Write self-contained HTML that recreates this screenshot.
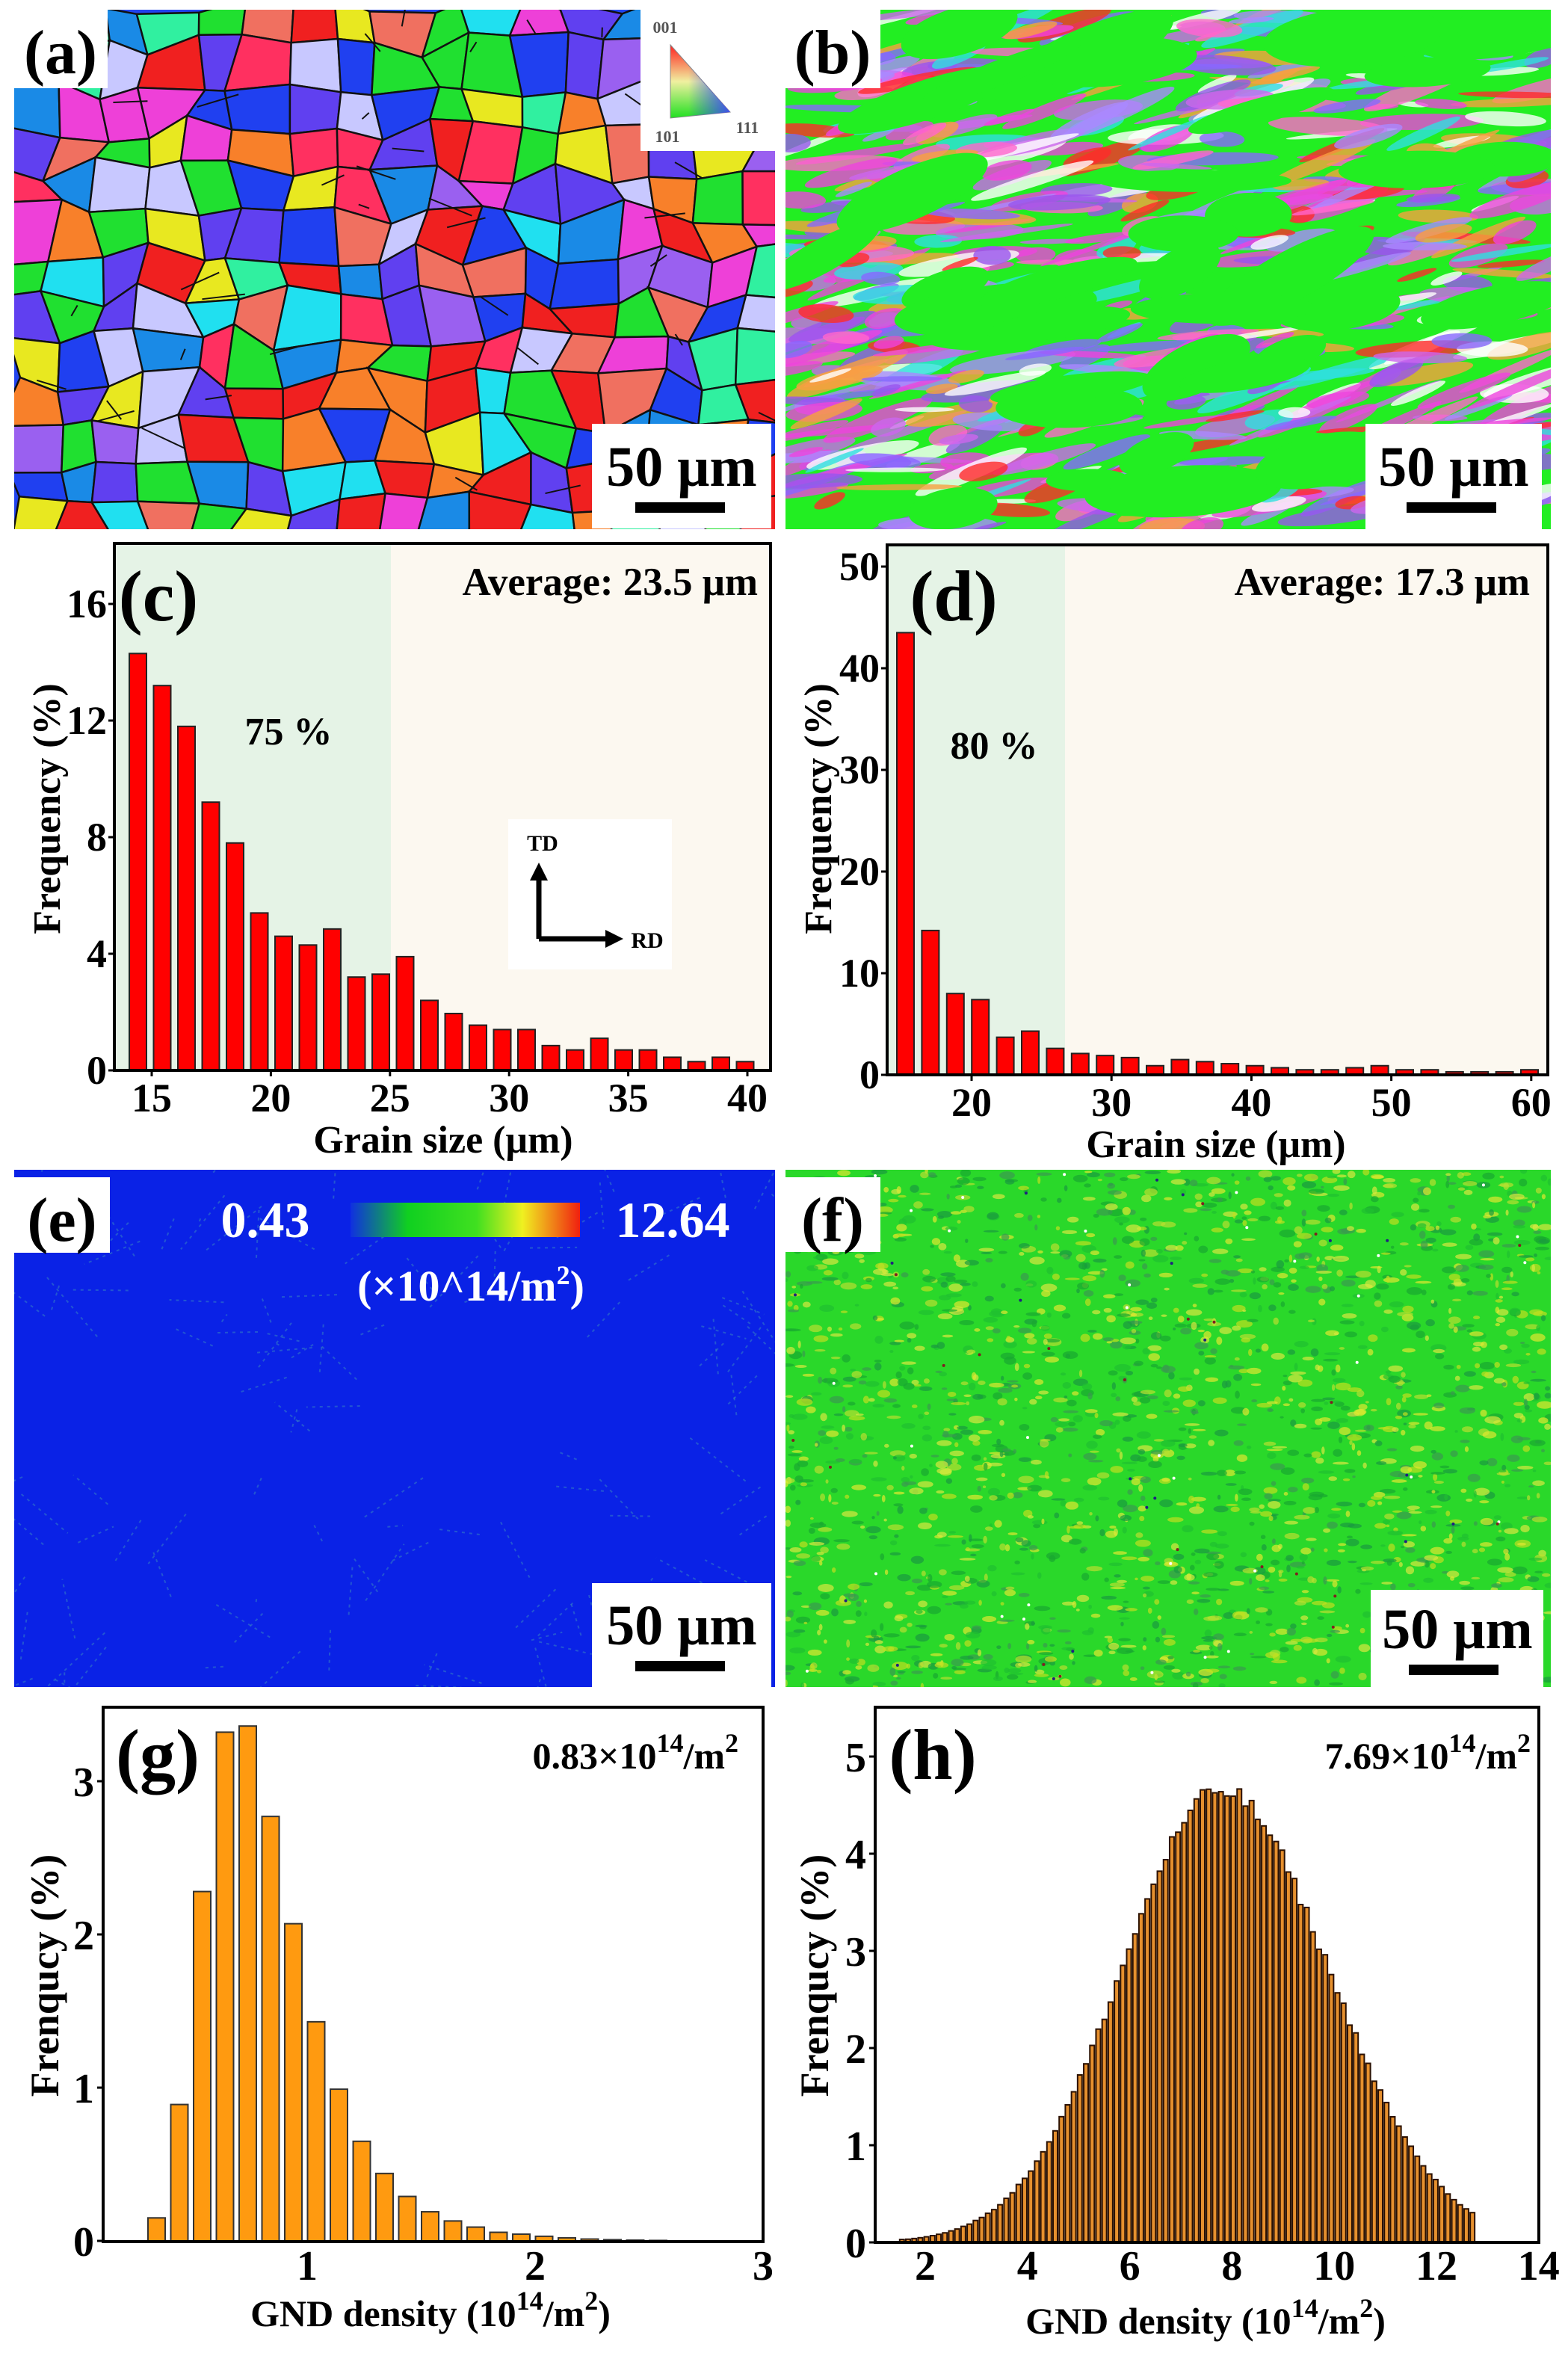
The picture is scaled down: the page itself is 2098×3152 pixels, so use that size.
<!DOCTYPE html>
<html><head><meta charset="utf-8"><style>
html,body{margin:0;padding:0;background:#fff;}
svg{display:block;}
text{font-family:"Liberation Serif",serif;font-weight:bold;}
</style></head><body>
<svg id="s" width="2098" height="3152" viewBox="0 0 2098 3152" xmlns="http://www.w3.org/2000/svg">
<defs>
<clipPath id="ca"><rect x="19" y="13" width="1018" height="695"/></clipPath>
<clipPath id="cb"><rect x="1051" y="13" width="1024" height="695"/></clipPath>
<clipPath id="ce"><rect x="19" y="1565" width="1018" height="692"/></clipPath>
<clipPath id="cf"><rect x="1051" y="1565" width="1024" height="692"/></clipPath>
<linearGradient id="cbar" x1="0" x2="1" y1="0" y2="0">
<stop offset="0" stop-color="#1030e0"/><stop offset="0.25" stop-color="#10d020"/><stop offset="0.55" stop-color="#40e020"/><stop offset="0.75" stop-color="#f0f020"/><stop offset="1" stop-color="#f02010"/></linearGradient>
<linearGradient id="ipf1" x1="0" x2="0" y1="0" y2="1"><stop offset="0" stop-color="#ff2020"/><stop offset="0.5" stop-color="#f0f0a0"/><stop offset="1" stop-color="#20e020"/></linearGradient>
<linearGradient id="ipf2" x1="0" x2="1" y1="0" y2="0"><stop offset="0.3" stop-color="#2040ff" stop-opacity="0"/><stop offset="1" stop-color="#4040ff" stop-opacity="0.9"/></linearGradient>
</defs>
<rect width="2098" height="3152" fill="#fff"/>
<g id="ga" clip-path="url(#ca)"></g>
<g id="gb" clip-path="url(#cb)"></g>
<g id="ge" clip-path="url(#ce)"></g>
<g id="gf" clip-path="url(#cf)"></g>
<g id="charts"></g>
<g id="over"></g>
</svg>
<script>
var NS="http://www.w3.org/2000/svg";
function el(p,t,a,txt){var e=document.createElementNS(NS,t);for(var k in a)e.setAttribute(k,a[k]);if(txt!=null)e.textContent=txt;p.appendChild(e);return e;}
var seed=12345;function R(){seed=(seed*1103515245+12345)%2147483648;return seed/2147483648;}
function pick(arr){return arr[Math.floor(R()*arr.length)];}
// (a)
var ga=document.getElementById('ga');
el(ga,'rect',{x:19,y:13,width:1018,height:695,fill:'#2244ee'});
var pal=['#f02020','#f02020','#20e030','#20e030','#2040f0','#2040f0','#9a60f0','#ee40d8','#f8802a','#20e0f0','#1a8ae6','#e8e820','#c8c8ff','#f07060','#30f0a0','#6040f0','#ff3060'];
var cs=62,nx=18,ny=13,P=[];
for(var j=0;j<=ny;j++){P[j]=[];for(var i=0;i<=nx;i++){P[j][i]=[10+i*cs+(R()-0.5)*40,5+j*cs*0.9+(R()-0.5)*36];}}
for(var j=0;j<ny;j++)for(var i=0;i<nx;i++){var a=P[j][i],b=P[j][i+1],c=P[j+1][i+1],d=P[j+1][i];
el(ga,'polygon',{points:a+' '+b+' '+c+' '+d,fill:pick(pal),stroke:'#111','stroke-width':2.5});}
for(var k=0;k<40;k++){var x=19+R()*1000,y=13+R()*690;el(ga,'line',{x1:x,y1:y,x2:x+(R()-0.5)*120,y2:y+(R()-0.5)*60,stroke:'#111','stroke-width':2});}
// (b)
var gb=document.getElementById('gb');
el(gb,'rect',{x:1051,y:13,width:1024,height:695,fill:'#22ee22'});
var palb=['#ee44dd','#9955ee','#ff2a2a','#ff66cc','#8866ff','#ee44dd','#aa88ff','#ffffff','#30e0e0','#f8a040','#cc66ee'];
for(var k=0;k<650;k++){var x=1051+R()*1024,y=13+R()*695;el(gb,'ellipse',{cx:x,cy:y,rx:20+R()*70,ry:3+R()*10,fill:pick(palb),opacity:0.8,transform:'rotate('+(-10+(R()-0.5)*30)+' '+x+' '+y+')'});}
for(var k=0;k<40;k++){var x=1051+R()*1024,y=13+R()*695;el(gb,'ellipse',{cx:x,cy:y,rx:50+R()*90,ry:14+R()*26,fill:'#22ee22',transform:'rotate('+(-15+(R()-0.5)*30)+' '+x+' '+y+')'});}
// (e)
var ge=document.getElementById('ge');
el(ge,'rect',{x:19,y:1565,width:1018,height:692,fill:'#0a22e6'});
for(var k=0;k<120;k++){var x=19+R()*1018,y=1565+R()*692;el(ge,'line',{x1:x,y1:y,x2:x+(R()-0.5)*160,y2:y+(R()-0.5)*160,stroke:'#3a8ac0','stroke-width':2,opacity:0.5,'stroke-dasharray':'4 6'});}
// (f)
var gf=document.getElementById('gf');
el(gf,'rect',{x:1051,y:1565,width:1024,height:692,fill:'#2ad82a'});
var palf=['#b8e030','#d8e840','#18a830','#1a9a40','#c0e020','#3a9a50','#e0e830','#20c030'];
for(var k=0;k<2200;k++){var x=1051+R()*1024,y=1565+R()*692;el(gf,'ellipse',{cx:x,cy:y,rx:2+R()*9,ry:1.5+R()*4,fill:pick(palf),opacity:0.7});}
for(var k=0;k<80;k++){var x=1051+R()*1024,y=1565+R()*692;el(gf,'circle',{cx:x,cy:y,r:2,fill:pick(['#802020','#202080','#ffffff'])});}
var ov=document.getElementById('over');
function box(x,y,w,h){el(ov,'rect',{x:x,y:y,width:w,height:h,fill:'#fff'});}
function lab(x,y,t,fs,anchor,fill,extra){var a={x:x,y:y,'font-size':fs,'text-anchor':anchor||'start',fill:fill||'#000'};if(extra)for(var k in extra)a[k]=extra[k];return el(ov,'text',a,t);}
box(19,13,125,105);lab(81,98,'(a)',84,'middle',null,{'font-weight':'normal'});
box(1051,13,127,105);lab(1114,98,'(b)',84,'middle',null,{'font-weight':'normal'});
box(857,13,180,189);
el(ov,'polygon',{points:'897,60 897,158 977,150',fill:'url(#ipf1)',stroke:'#888','stroke-width':1});
el(ov,'polygon',{points:'897,60 897,158 977,150',fill:'url(#ipf2)'});
lab(890,44,'001',22,'middle','#555',{'font-weight':'normal'});lab(893,190,'101',22,'middle','#555',{'font-weight':'normal'});lab(1000,178,'111',22,'middle','#555',{'font-weight':'normal'});
box(792,567,240,140);lab(912,650,'50 μm',76,'middle');el(ov,'rect',{x:850,y:672,width:120,height:14,fill:'#000'});
box(1827,567,236,141);lab(1945,650,'50 μm',76,'middle');el(ov,'rect',{x:1882,y:672,width:120,height:14,fill:'#000'});
box(19,1575,128,101);lab(83,1660,'(e)',84,'middle',null,{'font-weight':'normal'});
box(1051,1575,127,100);lab(1114,1660,'(f)',84,'middle',null,{'font-weight':'normal'});
el(ov,'rect',{x:469,y:1609,width:307,height:46,fill:'url(#cbar)'});
lab(355,1655,'0.43',68,'middle','#fff');lab(900,1655,'12.64',68,'middle','#fff');
var t=lab(630,1740,'(×10^14/m',58,'middle','#fff',{'font-weight':'normal'});
el(t,'tspan',{'font-size':36,dy:-22},'2');el(t,'tspan',{dy:22},')');
box(792,2118,240,140);lab(912,2200,'50 μm',76,'middle');el(ov,'rect',{x:850,y:2222,width:120,height:14,fill:'#000'});
box(1834,2127,231,131);lab(1950,2205,'50 μm',76,'middle');el(ov,'rect',{x:1885,y:2227,width:120,height:14,fill:'#000'});
var ch=document.getElementById('charts');
function tx(x,y,t,fs,anchor,extra){var a={x:x,y:y,'font-size':fs,'text-anchor':anchor||'middle'};if(extra)for(var k in extra)a[k]=extra[k];return el(ch,'text',a,t);}
// (c)
el(ch,'rect',{x:153,y:727,width:370,height:705,fill:'#e5f3e6'});
el(ch,'rect',{x:523,y:727,width:508,height:705,fill:'#fcf8f0'});
var cv=[14.3,13.2,11.8,9.2,7.8,5.4,4.6,4.3,4.85,3.2,3.3,3.9,2.4,1.95,1.55,1.4,1.4,0.85,0.7,1.1,0.7,0.7,0.45,0.3,0.45,0.3];
cv.forEach(function(v,i){var h=v*39;el(ch,'rect',{x:173+i*32.5,y:1432-h,width:23,height:h,fill:'#ff0000',stroke:'#222','stroke-width':2});});
el(ch,'rect',{x:680,y:1096,width:219,height:201,fill:'#fff'});
el(ch,'path',{d:'M721 1256 V1172 M721 1256 H815',stroke:'#000','stroke-width':7,fill:'none'});
el(ch,'polygon',{points:'709,1178 721,1154 733,1178',fill:'#000'});
el(ch,'polygon',{points:'810,1244 834,1256 810,1268',fill:'#000'});
tx(726,1138,'TD',30,'middle');tx(866,1268,'RD',30,'middle');
el(ch,'rect',{x:153,y:727,width:878,height:705,fill:'none',stroke:'#000','stroke-width':4});
[0,4,8,12,16].forEach(function(v){var y=1432-39*v;el(ch,'line',{x1:145,x2:153,y1:y,y2:y,stroke:'#000','stroke-width':3});tx(143,y+18,String(v),54,'end');});
[15,20,25,30,35,40].forEach(function(v){var x=203+(v-15)*31.88;el(ch,'line',{x1:x,x2:x,y1:1432,y2:1440,stroke:'#000','stroke-width':3});tx(x,1487,String(v),54);});
tx(212,830,'(c)',96);tx(1014,796,'Average: 23.5 μm',53,'end');tx(386,996,'75 %',52);
tx(593,1542,'Grain size (μm)',52);tx(0,0,'Frequency (%)',52,'middle',{transform:'translate(80,1082) rotate(-90)'});
// (d)
el(ch,'rect',{x:1187,y:729,width:238,height:709,fill:'#e5f3e6'});
el(ch,'rect',{x:1425,y:729,width:646,height:709,fill:'#fcf8f0'});
var dv=[43.5,14.2,8,7.4,3.7,4.3,2.6,2.1,1.9,1.7,0.9,1.5,1.3,1.1,0.9,0.7,0.5,0.5,0.7,0.9,0.5,0.5,0.3,0.3,0.3,0.5];
dv.forEach(function(v,i){var h=v*13.6;el(ch,'rect',{x:1200+i*33.4,y:1438-h,width:23,height:h,fill:'#ff0000',stroke:'#222','stroke-width':2});});
el(ch,'rect',{x:1187,y:729,width:884,height:709,fill:'none',stroke:'#000','stroke-width':4});
[0,10,20,30,40,50].forEach(function(v){var y=1438-13.6*v;el(ch,'line',{x1:1179,x2:1187,y1:y,y2:y,stroke:'#000','stroke-width':3});tx(1177,y+18,String(v),54,'end');});
[20,30,40,50,60].forEach(function(v){var x=1300+(v-20)*18.72;el(ch,'line',{x1:x,x2:x,y1:1438,y2:1446,stroke:'#000','stroke-width':3});tx(x,1493,String(v),54);});
tx(1276,830,'(d)',96);tx(2047,796,'Average: 17.3 μm',53,'end');tx(1330,1015,'80 %',52);
tx(1627,1548,'Grain size (μm)',52);tx(0,0,'Frequency (%)',52,'middle',{transform:'translate(1112,1082) rotate(-90)'});
// (g)
var gv=[0.15,0.89,2.28,3.32,3.36,2.77,2.07,1.43,0.99,0.65,0.44,0.29,0.19,0.13,0.09,0.056,0.044,0.03,0.02,0.012,0.008,0.005,0.003];
gv.forEach(function(v,i){var h=v*205;el(ch,'rect',{x:198+i*30.5,y:2998-h,width:23,height:h,fill:'#ff9a10',stroke:'#333','stroke-width':2});});
el(ch,'rect',{x:138,y:2284,width:883,height:715,fill:'none',stroke:'#000','stroke-width':4});
[0,1,2,3].forEach(function(v){var y=2998-205*v;el(ch,'line',{x1:130,x2:138,y1:y,y2:y,stroke:'#000','stroke-width':3});tx(126,y+20,String(v),56,'end',{'font-weight':'normal'});});
[1,2,3].forEach(function(v){var x=106+305*v;tx(x,3050,String(v),56,'middle',{'font-weight':'normal'});});
tx(211,2380,'(g)',96,'middle',{'font-weight':'normal'});
var t1=tx(988,2366,'0.83×10',50,'end');el(t1,'tspan',{'font-size':36,dy:-22},'14');el(t1,'tspan',{dy:22},'/m');el(t1,'tspan',{'font-size':36,dy:-22},'2');
var t2=tx(576,3112,'GND density (10',50,'middle');el(t2,'tspan',{'font-size':36,dy:-22},'14');el(t2,'tspan',{dy:22},'/m');el(t2,'tspan',{'font-size':36,dy:-22},'2');el(t2,'tspan',{dy:22},')');
tx(0,0,'Frenqucy (%)',54,'middle',{transform:'translate(78,2643) rotate(-90)'});
// (h)
for(var v=1.5;v<12.7;v+=0.12){var m=7.75,s=v<m?1.95:2.1,hv=4.65*Math.exp(-Math.pow(v-m,2)/(2*s*s));hv*=1+(R()-0.5)*0.04;if(v<2.4)hv=Math.max(hv,0.03);var h=hv*130,x=1238+(v-2)*68.4;el(ch,'rect',{x:x,y:3000-h,width:6,height:h,fill:'#e6902e',stroke:'#2a1000','stroke-width':2});}
el(ch,'rect',{x:1171,y:2284,width:888,height:716,fill:'none',stroke:'#000','stroke-width':4});
[0,1,2,3,4,5].forEach(function(v){var y=3000-130*v;el(ch,'line',{x1:1163,x2:1171,y1:y,y2:y,stroke:'#000','stroke-width':3});tx(1159,y+20,String(v),56,'end',{'font-weight':'normal'});});
[2,4,6,8,10,12,14].forEach(function(v){var x=1238+(v-2)*68.4;tx(x,3050,String(v),56,'middle',{'font-weight':'normal'});});
tx(1248,2380,'(h)',96,'middle',{'font-weight':'normal'});
var t3=tx(2048,2366,'7.69×10',50,'end');el(t3,'tspan',{'font-size':36,dy:-22},'14');el(t3,'tspan',{dy:22},'/m');el(t3,'tspan',{'font-size':36,dy:-22},'2');
var t4=tx(1613,3122,'GND density (10',50,'middle');el(t4,'tspan',{'font-size':36,dy:-22},'14');el(t4,'tspan',{dy:22},'/m');el(t4,'tspan',{'font-size':36,dy:-22},'2');el(t4,'tspan',{dy:22},')');
tx(0,0,'Frenqucy (%)',54,'middle',{transform:'translate(1108,2643) rotate(-90)'});
</script>
</body></html>
